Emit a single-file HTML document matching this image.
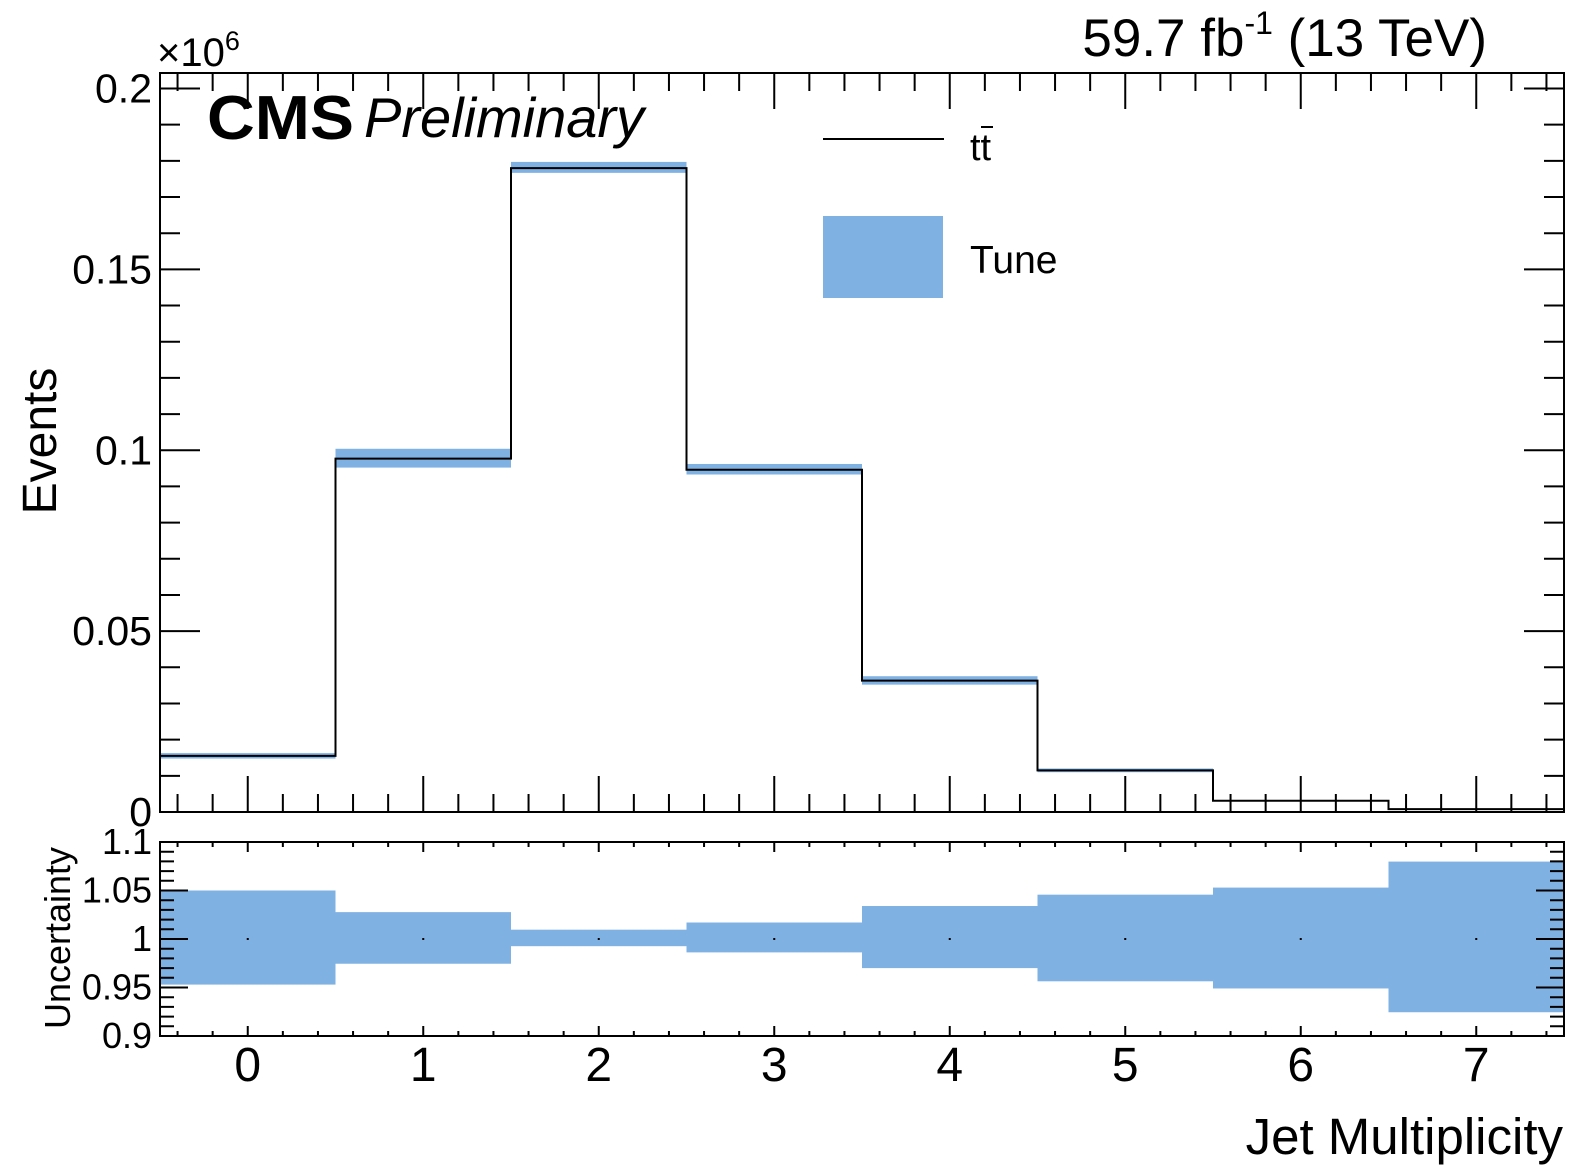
<!DOCTYPE html>
<html><head><meta charset="utf-8"><style>
html,body{margin:0;padding:0;background:#fff}
svg{display:block}
text{font-family:"Liberation Sans",sans-serif;fill:#000}
</style></head><body>
<svg id="chart" width="1596" height="1172" viewBox="0 0 1596 1172" xmlns="http://www.w3.org/2000/svg">
<g id="bands"></g>
<g id="lines"></g>
<g id="axes"></g>
<text x="1487" y="56" font-size="53" text-anchor="end">59.7 fb<tspan dy="-22" font-size="32">-1</tspan><tspan dy="22"> (13 TeV)</tspan></text>
<text x="207" y="139" font-size="62" font-weight="bold" textLength="147" lengthAdjust="spacingAndGlyphs">CMS</text>
<text x="364" y="137" font-size="56" font-style="italic">Preliminary</text>
<text x="157" y="66" font-size="40">×10<tspan dy="-16" font-size="27">6</tspan></text>
<text transform="translate(56,441) rotate(-90)" font-size="48" text-anchor="middle">Events</text>
<text transform="translate(70,938) rotate(-90)" font-size="36" text-anchor="middle">Uncertainty</text>
<text x="1563" y="1154" font-size="51" text-anchor="end">Jet Multiplicity</text>
<g>
<line x1="823" y1="139" x2="944" y2="139" stroke="#000" stroke-width="2"/>
<text x="970" y="160" font-size="38">tt</text>
<line x1="981" y1="127" x2="993" y2="127" stroke="#000" stroke-width="2"/>
<rect x="823" y="216" width="120" height="82" fill="#7fb1e3"/>
<text x="970" y="273" font-size="39">Tune</text>
</g>
</svg>
<script>
const categories = [0,1,2,3,4,5,6,7];
const events = [0.0155,0.0977,0.178,0.0946,0.0363,0.0115,0.0031,0.0008];
const uncUp = [0.050,0.0277,0.0096,0.017,0.034,0.0457,0.053,0.0798];
const uncDown = [0.047,0.0255,0.0074,0.0138,0.030,0.0436,0.051,0.0755];
const yTicks = [0,0.05,0.1,0.15,0.2];
const yTickLabels = ["0","0.05","0.1","0.15","0.2"];
const rTicks = [0.9,0.95,1,1.05,1.1];
const rTickLabels = ["0.9","0.95","1","1.05","1.1"];

const NS="http://www.w3.org/2000/svg";
const L=160,R=1564,T=73,B=812,RT=842,RB=1036;
const xs=v=>L+(v+0.5)*(R-L)/8;
const ys=v=>B-v*(B-88.5)/0.2;
const rs=v=>939-(v-1)*(97/0.1);
function mk(tag,attrs,parent){const e=document.createElementNS(NS,tag);for(const k in attrs)e.setAttribute(k,attrs[k]);parent.appendChild(e);return e;}
const bands=document.getElementById('bands'),lines=document.getElementById('lines'),axes=document.getElementById('axes');
const blue="#7fb1e3";
categories.forEach((c,i)=>{
  const x0=xs(c-0.5),x1=xs(c+0.5);
  const hi=events[i]*(1+uncUp[i]),lo=events[i]*(1-uncDown[i]);
  const r=mk('rect',{x:x0,y:ys(hi),width:x1-x0,height:Math.max(ys(lo)-ys(hi),1),fill:blue},bands);
  
  
  const rr=mk('rect',{x:x0,y:rs(1+uncUp[i]),width:x1-x0,height:rs(1-uncDown[i])-rs(1+uncUp[i]),fill:blue},bands);
  
  
  const d=mk('rect',{x:xs(c)-1,y:rs(1)-1,width:2,height:2,fill:'#000'},bands);
  
  
});
let p='';
categories.forEach((c,i)=>{
  const x0=xs(c-0.5),x1=xs(c+0.5),y=ys(events[i]);
  p+=(i===0?'M':'L')+x0+' '+y+' L'+x1+' '+y+' ';
});
const path=mk('path',{d:p,fill:'none',stroke:'#000','stroke-width':2},lines);


const f1=mk('rect',{x:L,y:T,width:R-L,height:B-T,fill:'none',stroke:'#000','stroke-width':2},axes);


const f2=mk('rect',{x:L,y:RT,width:R-L,height:RB-RT,fill:'none',stroke:'#000','stroke-width':2},axes);


let tk='';
for(let k=-2;k<=37;k++){const v=k*0.2;if(v<=-0.5||v>=7.5)continue;const x=xs(v);const major=Math.abs(v-Math.round(v))<1e-6;
  const ml=major?36:18, rl=major?10:5;
  tk+=`M${x} ${B}L${x} ${B-ml}M${x} ${T}L${x} ${T+ml}M${x} ${RB}L${x} ${RB-rl}M${x} ${RT}L${x} ${RT+rl}`;}
for(let k=0;k<=20;k++){const v=k*0.01;const y=ys(v);if(y<T)continue;const major=k%5===0;const l=major?40:20;
  tk+=`M${L} ${y}L${L+l} ${y}M${R} ${y}L${R-l} ${y}`;}
for(let k=0;k<=20;k++){const v=0.9+k*0.01;const y=rs(v);const major=k%5===0;const l=major?28:14;
  tk+=`M${L} ${y}L${L+l} ${y}M${R} ${y}L${R-l} ${y}`;}
const tp=mk('path',{d:tk,stroke:'#000','stroke-width':2,fill:'none'},axes);


yTicks.forEach((v,i)=>{const t=mk('text',{x:152,y:ys(v)+14,'font-size':41,'text-anchor':'end'},axes);t.textContent=yTickLabels[i];
  
  });
rTicks.forEach((v,i)=>{const t=mk('text',{x:152,y:rs(v)+12,'font-size':36,'text-anchor':'end'},axes);t.textContent=rTickLabels[i];
  
  });
categories.forEach(c=>{const t=mk('text',{x:xs(c),y:1081,'font-size':48,'text-anchor':'middle'},axes);t.textContent=String(c);
  
  });
</script>
</body></html>
